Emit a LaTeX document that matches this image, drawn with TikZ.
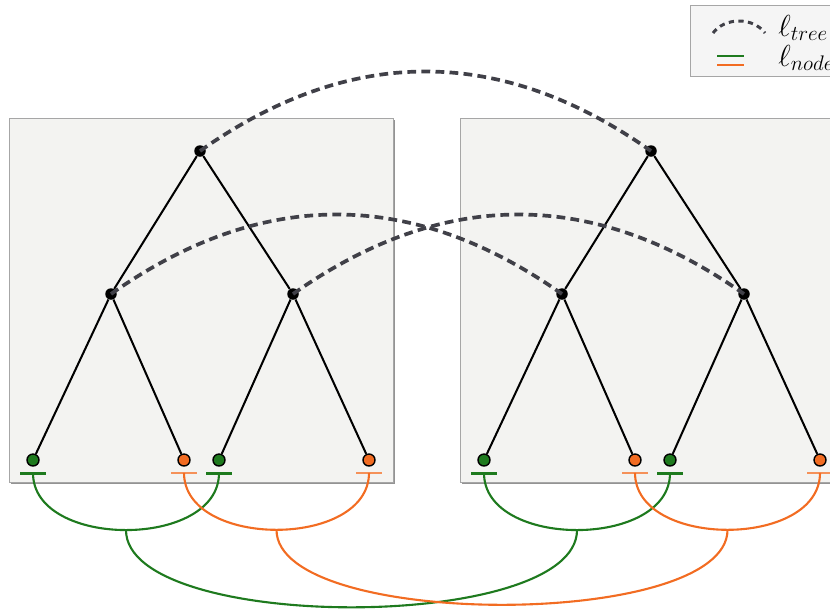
\documentclass[tikz,border=0pt]{standalone}
\usepackage{amsmath,amssymb}
\usetikzlibrary{arrows.meta,positioning}
\definecolor{lgreen}{RGB}{30,122,30}
\definecolor{lorange}{RGB}{242,108,34}
\definecolor{dgray}{RGB}{64,64,72}
\definecolor{panelbg}{RGB}{243,243,241}
\begin{document}
\begin{tikzpicture}[x=0.02cm, y=-0.02cm,
  inner/.style={circle, fill=black, inner sep=0pt, minimum size=0.23cm},
  gleaf/.style={circle, draw=black, fill=lgreen, thick, inner sep=0pt, minimum size=0.24cm},
  oleaf/.style={circle, draw=black, fill=lorange, thick, inner sep=0pt, minimum size=0.24cm},
  gbar/.style={rectangle, fill=lgreen, inner sep=0pt, minimum width=0.52cm, minimum height=0.06cm},
  obar/.style={rectangle, fill=lorange!75, inner sep=0pt, minimum width=0.52cm, minimum height=0.05cm},
  edge/.style={draw, line width=1.15pt},
  tarc/.style={draw=dgray, line width=2.1pt, dash pattern=on 5pt off 3pt},
  garc/.style={draw=lgreen, line width=1.2pt},
  oarc/.style={draw=lorange, line width=1.2pt}]
\useasboundingbox (0,0) rectangle (830,613);
\clip (0,0) rectangle (830,613);
% panels
\foreach \o in {0,451} {\fill[gray!85] (11+\o,120) rectangle (395+\o,484); \filldraw[fill=panelbg, draw=gray!70] (9+\o,118) rectangle (393+\o,482);}
% trees
\foreach \t/\o in {a/0, b/451} {
  \node[inner] (\t0) at (200+\o,151) {};
  \node[inner] (\t1) at (111+\o,294) {}; \node[inner] (\t2) at (293+\o,294) {};
  \node[gleaf] (\t3) at (33+\o,460) {}; \node[oleaf] (\t4) at (184+\o,460) {};
  \node[gleaf] (\t5) at (219+\o,460) {}; \node[oleaf] (\t6) at (369+\o,460) {};
  \foreach \a/\b in {0/1, 0/2, 1/3, 1/4, 2/5, 2/6} \draw[edge] (\t\a) -- (\t\b);
  \foreach \n/\s in {3/gbar, 4/obar, 5/gbar, 6/obar} \node[\s, below=0.09cm of \t\n] (\t\n b) {};
  \draw[garc] (\t3b.center) .. controls +(0,76) and +(0,76) .. node[coordinate, pos=.5] (\t g) {} (\t5b.center);
  \draw[oarc] (\t4b.center) .. controls +(0,76) and +(0,76) .. node[coordinate, pos=.5] (\t o) {} (\t6b.center);
}
\draw[garc] (ag) .. controls +(0,103) and +(0,103) .. (bg);
\draw[oarc] (ao) .. controls +(0,100) and +(0,100) .. (bo);
\foreach \a in {0,1,2} \draw[tarc] (a\a.center) .. controls +(150,-106) and +(-150,-106) .. (b\a.center);
% legend
\filldraw[fill=gray!8, draw=gray!70] (690,5) rectangle (845,76);
\coordinate (lt1) at (713,33); \coordinate (lt2) at (765,33);
\draw[tarc, line width=1.7pt, dash pattern=on 3pt off 2.5pt] (lt1) .. controls +(12,-16) and +(-12,-16) .. (lt2);
\coordinate (lg1) at (717,56); \coordinate (lg2) at (744,56); \coordinate (lo1) at (717,65); \coordinate (lo2) at (744,65);
\draw[garc, line width=1.6pt] (lg1) -- (lg2); \draw[oarc, line width=1.6pt] (lo1) -- (lo2);
\node[anchor=base west, font=\LARGE, inner sep=0pt] (ltree) at (778,36) {$\ell_{tree}$};
\node[anchor=base west, font=\LARGE, inner sep=0pt] (lnode) at (778,66) {$\ell_{node}$};
\end{tikzpicture}
\end{document}
